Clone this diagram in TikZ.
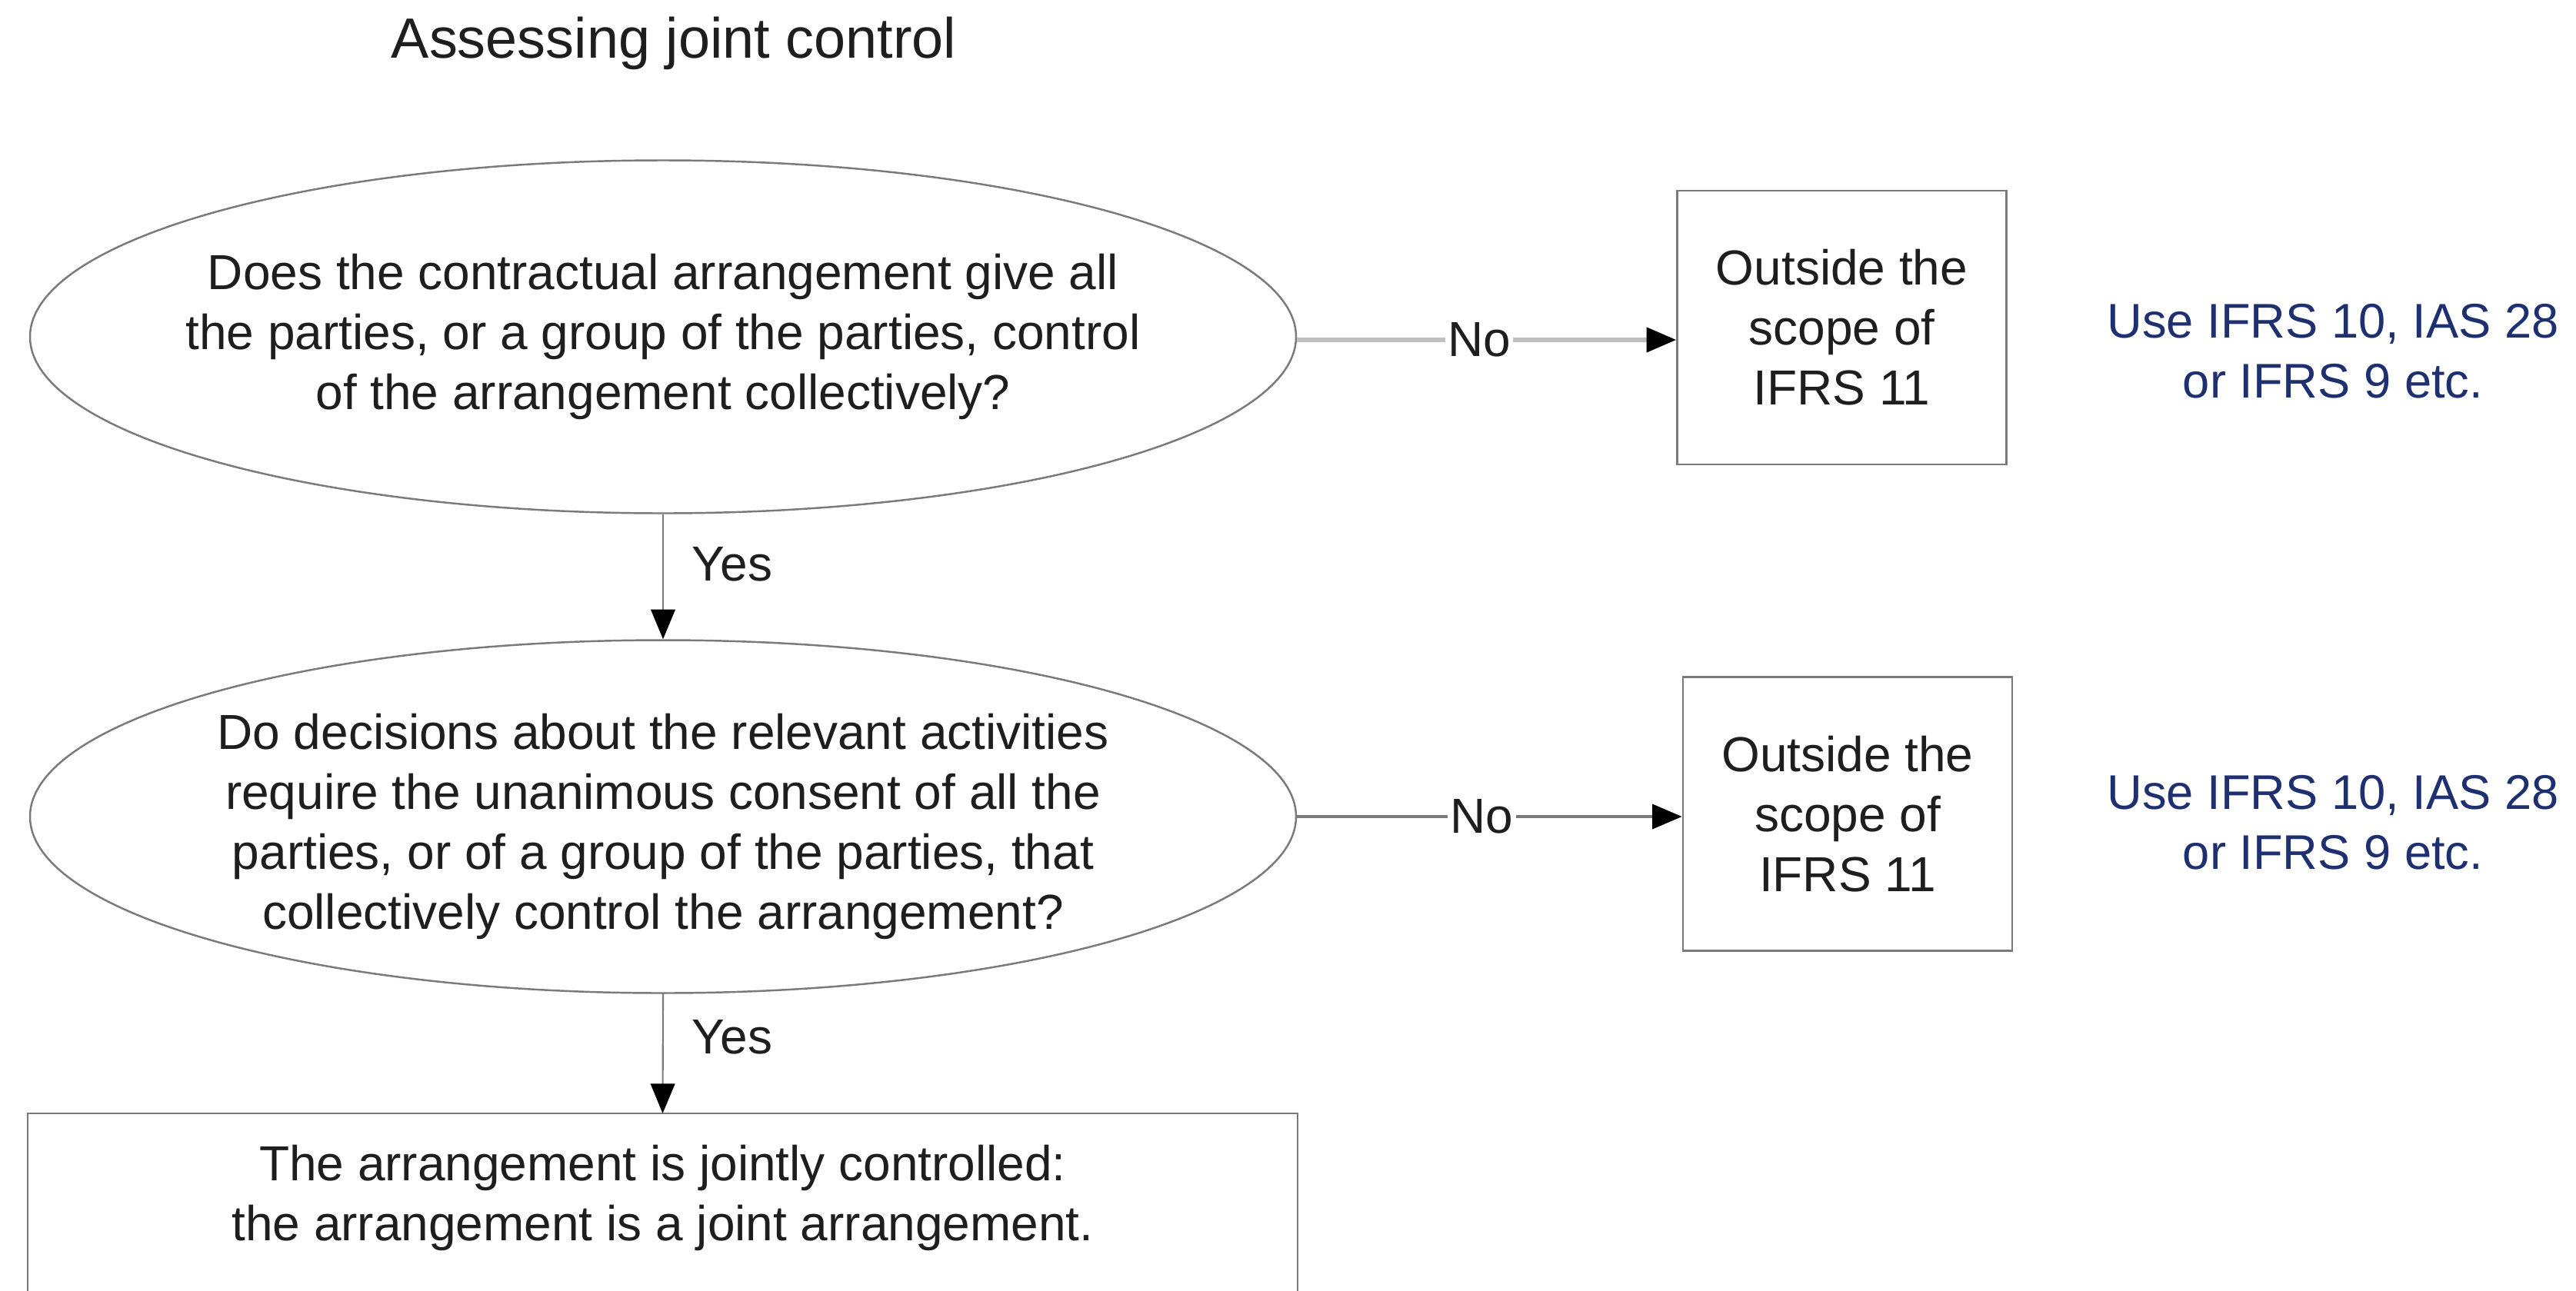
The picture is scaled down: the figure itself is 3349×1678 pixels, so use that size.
\documentclass[tikz,border=0pt]{standalone}
\usepackage{fontspec}
\setmainfont{Liberation Sans}
\usetikzlibrary{arrows.meta,shapes.geometric}
\definecolor{linegray}{RGB}{122,122,122}
\definecolor{lightline}{RGB}{192,192,192}
\definecolor{navy}{RGB}{30,48,112}
\definecolor{txt}{RGB}{30,30,30}
\tikzset{
  base/.style={font=\fontsize{18.2pt}{22.2pt}\selectfont, text=txt, align=center},
  question/.style={base, ellipse, draw=linegray, line width=0.7pt, inner xsep=-5mm, inner ysep=0pt,
    minimum width=164.6mm, minimum height=45.9mm},
  outbox/.style={base, rectangle, draw=linegray, line width=0.7pt, inner sep=0pt,
    minimum width=42.8mm, minimum height=35.6mm},
  note/.style={font=\fontsize{18pt}{22.2pt}\selectfont, text=navy, align=center},
  conn/.style={draw=linegray, line width=0.6pt,
    -{Triangle[length=11pt,width=9pt,color=black,fill=black]}},
  connlight/.style={draw=lightline, line width=1.6pt,
    -{Triangle[length=11pt,width=9pt,color=black,fill=black]}},
  connmid/.style={draw=linegray, line width=1.4pt,
    -{Triangle[length=11pt,width=9pt,color=black,fill=black]}},
  lbl/.style={base, fill=white, inner sep=1pt},
  ylbl/.style={base, inner sep=1pt, right, xshift=9.5pt}
}
\begin{document}
\begin{tikzpicture}[x=0.1mm, y=-0.1mm]
\clip (0,0) rectangle (3349,1678);
\fill[white] (0,0) rectangle (3349,1678);

\node[base, font=\fontsize{21pt}{25pt}\selectfont] (title) at (876,56) {Assessing joint control};

\node[question] (q1) at (862,438) {Does the contractual arrangement give all\\the parties, or a group of the parties, control\\of the arrangement collectively?};
\node[question] (q2) at (862,1062) {\rule{0pt}{20.5pt}Do decisions about the relevant activities\\require the unanimous consent of all the\\parties, or of a group of the parties, that\\collectively control the arrangement?};

\node[outbox] (o1) at (2394.5,426) {Outside the\\scope of\\IFRS 11};
\node[outbox] (o2) at (2402,1058.5) {Outside the\\scope of\\IFRS 11};

\node[note] (n1) at (3033,457) {Use IFRS 10, IAS 28\\or IFRS 9 etc.};
\node[note] (n2) at (3033,1070) {Use IFRS 10, IAS 28\\or IFRS 9 etc.};

\node[base] (ftxt) at (861.5,1558) {The arrangement is jointly controlled:\\the arrangement is a joint arrangement.};
\coordinate (ftop) at (861.5,1448);
\draw[draw=linegray, line width=0.7pt] (36,1800) -- (36,1448) -- (1687,1448) -- (1687,1800);

\coordinate (a1) at ([yshift=-0.4mm]q1.east);
\draw[connlight] (a1) -- node[lbl, pos=0.48] {No} (a1 -| o1.west);
\draw[connmid] (q2.east) -- node[lbl, pos=0.48] {No} (q2.east -| o2.west);
\draw[conn] (q1.south) -- node[ylbl, pos=0.4] {Yes} (q2.north);
\draw[conn] (q2.south) -- node[ylbl, pos=0.36] {Yes} (ftop);
\end{tikzpicture}
\end{document}
